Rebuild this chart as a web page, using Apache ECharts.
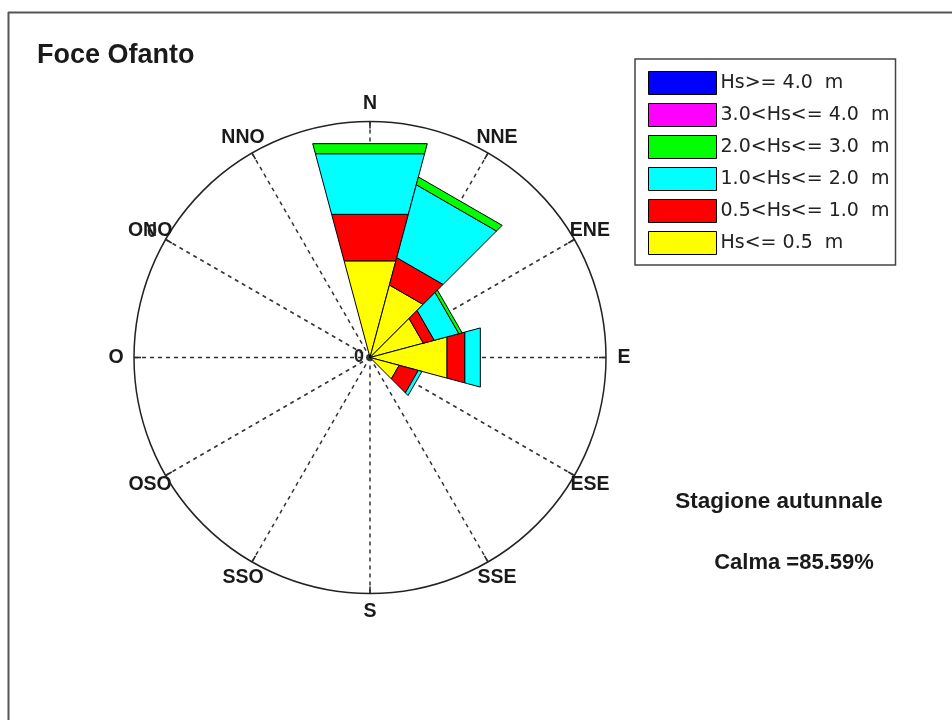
<!DOCTYPE html>
<html>
<head>
<meta charset="utf-8">
<script src="https://cdn.jsdelivr.net/npm/echarts@6/dist/echarts.min.js"></script>
<style>
html,body{margin:0;padding:0;background:#fff;}
#c{width:952px;height:720px;}
</style>
</head>
<body>
<div id="c"></div>
<script>
// Directions (centre angle, degrees clockwise from North)
var directions = ['N','NNE','ENE','E','ESE','SSE','S','SSO','OSO','O','ONO','NNO'];
var dirAngles  = [0,30,60,90,120,150,180,210,240,270,300,330];

// Wave-height classes (from inside to outside), frequency in %
var classNames  = ['Hs<= 0.5  m','0.5<Hs<= 1.0  m','1.0<Hs<= 2.0  m','2.0<Hs<= 3.0  m','3.0<Hs<= 4.0  m','Hs>= 4.0  m'];
var classColors = ['#FFFF00','#FF0000','#00FFFF','#00FF00','#FF00FF','#0000FF'];

var hsLe05   = [2.12, 1.59, 1.17, 1.69, 0.64, 0, 0, 0, 0, 0, 0, 0];
var hs05to1  = [1.02, 0.60, 0.24, 0.39, 0.42, 0, 0, 0, 0, 0, 0, 0];
var hs1to2   = [1.33, 1.60, 0.54, 0.34, 0.08, 0, 0, 0, 0, 0, 0, 0];
var hs2to3   = [0.22, 0.17, 0.07, 0.00, 0.00, 0, 0, 0, 0, 0, 0, 0];
var hs3to4   = [0, 0, 0, 0, 0, 0, 0, 0, 0, 0, 0, 0];
var hsGe4    = [0, 0, 0, 0, 0, 0, 0, 0, 0, 0, 0, 0];

var radiusMax = 5;
var labelRadius = 5.38;
var title = 'Foce Ofanto';
var season = 'Stagione autunnale';
var calmText = 'Calma =85.59%';

var classValues = [hsLe05, hs05to1, hs1to2, hs2to3, hs3to4, hsGe4];
var FONT = '"Liberation Sans", Arial, sans-serif';
var LFONT = '"DejaVu Sans", sans-serif';

var cum = dirAngles.map(function(){return 0;});
var series = [];
classValues.forEach(function(vals, ci){
  var data = [];
  vals.forEach(function(v, di){
    var base = cum[di];
    var top = base + v;
    cum[di] = top;
    if (v > 0) data.push([top, dirAngles[di], base]);
  });
  series.push({
    name: classNames[ci],
    type: 'custom',
    coordinateSystem: 'polar',
    itemStyle: {color: classColors[ci]},
    data: data,
    z: 3,
    renderItem: function(params, api){
      var top = api.value(0), ang = api.value(1), base = api.value(2);
      var a1 = ang - 15, a2 = ang + 15;
      var pts = [api.coord([base, a1]), api.coord([top, a1]), api.coord([top, a2]), api.coord([base, a2])];
      return {type:'polygon', shape:{points: pts},
        style:{fill: api.visual('color'), stroke:'#000', lineWidth:1}};
    }
  });
});

var legendOrder = classNames.slice().reverse();

var baseGraphics = [
  {id: 'bt', type: 'line', shape: {x1: 8, y1: 12.5, x2: 952, y2: 12.5}, style: {stroke: '#555', lineWidth: 2}},
  {id: 'bl', type: 'line', shape: {x1: 8.5, y1: 12, x2: 8.5, y2: 720}, style: {stroke: '#555', lineWidth: 2}},
  {id: 'z0', type: 'text', x: 152, y: 232, z: 10, style: {text: '0', font: 'bold 18px ' + FONT, fill: '#222', align: 'center', verticalAlign: 'middle'}},
  {id: 'ss', type: 'text', x: 779, y: 502, style: {text: season, font: 'bold 22.5px ' + FONT, fill: '#1a1a1a', align: 'center', verticalAlign: 'middle'}},
  {id: 'cm', type: 'text', x: 794, y: 563, style: {text: calmText, font: 'bold 22px ' + FONT, fill: '#1a1a1a', align: 'center', verticalAlign: 'middle'}}
];

var chart = echarts.init(document.getElementById('c'), null, {renderer: 'canvas'});
chart.setOption({
  backgroundColor: '#fff',
  animation: false,
  title: {text: title, left: 32, top: 37,
    textStyle: {fontFamily: FONT, fontWeight: 'bold', fontSize: 27, color: '#1a1a1a'}},
  legend: {
    data: legendOrder,
    orient: 'vertical', left: 635, top: 59,
    icon: 'rect', itemWidth: 68, itemHeight: 23, itemGap: 8,
    padding: [12, 6, 10, 13],
    borderColor: '#444', borderWidth: 1.5, backgroundColor: '#fff',
    itemStyle: {borderColor: '#000', borderWidth: 1},
    selectedMode: false,
    textStyle: {fontFamily: LFONT, fontSize: 19, color: '#222', lineHeight: 20, padding: [0,0,0,-1]}
  },
  polar: {center: [370, 357.5], radius: 236},
  angleAxis: {
    type: 'value', min: 0, max: 360, interval: 30,
    startAngle: 90, clockwise: true,
    axisLine: {show: true, lineStyle: {color: '#222', width: 1.5}},
    axisTick: {show: true, inside: true, length: 7, lineStyle: {color: '#222', width: 1.5}},
    axisLabel: {show: false},
    splitLine: {show: true, lineStyle: {color: '#333', width: 1.5, type: [4, 4]}}
  },
  radiusAxis: {
    type: 'value', min: 0, max: radiusMax, interval: 1,
    axisLine: {show: false}, axisTick: {show: false}, splitLine: {show: false},
    axisLabel: {show: true, margin: 6, formatter: function(v){ return v === 0 ? '0' : ''; },
      fontFamily: FONT, fontWeight: 'bold', fontSize: 18, color: '#222'}
  },
  graphic: baseGraphics,
  series: series
});

// direction labels positioned through the polar coordinate system
var dirGraphics = directions.map(function(d, i){
  var p = chart.convertToPixel({seriesIndex: 0}, [labelRadius, dirAngles[i]]);
  return {id: 'dir' + i, type: 'text', x: p[0], y: p[1], z: 9,
    style: {text: d, font: 'bold 19.5px ' + FONT, fill: '#1a1a1a', align: 'center', verticalAlign: 'middle'}};
});
chart.setOption({graphic: baseGraphics.concat(dirGraphics)});
</script>
</body>
</html>
